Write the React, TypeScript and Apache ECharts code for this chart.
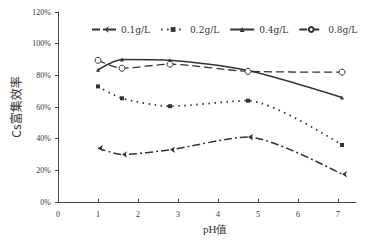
import React, { useEffect, useRef } from "react";
import * as echarts from "echarts";

const pH = [1, 1.6, 2.8, 4.75, 7.1];
const s01 = [34, 30, 33, 41, 17.5];
const s02 = [73, 65.5, 60.5, 64, 36];
const s04 = [83.5, 90, 89.5, 83, 66];
const s08 = [89.5, 84.5, 87, 82.5, 82];
const names = ["0.1g/L", "0.2g/L", "0.4g/L", "0.8g/L"];
const xTicks = [0, 1, 2, 3, 4, 5, 6, 7];

const toPts = (ys: number[]) => pH.map((x, i) => [x, ys[i]]);

export default function App() {
  const ref = useRef<HTMLDivElement>(null);
  useEffect(() => {
    const chart = echarts.init(ref.current!, null, { renderer: "svg" });
    const lc = "#333";
    const base = { type: "line", smooth: 0.25, color: lc };
    chart.setOption({
      animation: false,
      backgroundColor: "#fff",
      grid: { left: 58, right: 35, top: 12, bottom: 38 },
      legend: {
        top: 20,
        left: 86,
        itemWidth: 24,
        itemHeight: 6,
        itemGap: 10,
        textStyle: { fontFamily: "DejaVu Serif", fontSize: 9, color: "#333" },
        data: names,
      },
      xAxis: {
        type: "value",
        min: 0,
        max: 7.45,
        interval: 1,
        splitLine: { show: false },
        axisLine: { lineStyle: { color: "#444", width: 1 } },
        axisTick: { inside: true, length: 3, customValues: xTicks, lineStyle: { color: "#444" } },
        axisLabel: {
          customValues: xTicks,
          fontFamily: "Liberation Serif",
          fontSize: 8,
          color: "#333",
          margin: 8,
        },
      },
      yAxis: {
        type: "value",
        min: 0,
        max: 120,
        interval: 20,
        name: "Cs富集效率",
        nameLocation: "middle",
        nameRotate: 90,
        nameGap: 27,
        nameTextStyle: { fontFamily: "Noto Sans CJK SC", fontSize: 12, color: "#333" },
        splitLine: { show: false },
        axisLine: { show: true, lineStyle: { color: "#444", width: 1 } },
        axisTick: { show: true, length: 3, lineStyle: { color: "#444" } },
        axisLabel: {
          formatter: "{value}%",
          fontFamily: "Liberation Serif",
          fontSize: 8,
          color: "#333",
          margin: 7,
        },
      },
      graphic: [
        {
          type: "text",
          left: 203,
          top: 223,
          style: { text: "pH值", fontFamily: "Liberation Serif", fontSize: 11, fill: "#333" },
        },
      ],
      series: [
        {
          ...base,
          name: names[0],
          data: toPts(s01),
          symbol: "arrow",
          symbolRotate: 90,
          symbolSize: 5,
          lineStyle: { color: lc, width: 1.5, type: [8, 3, 2, 3] },
          itemStyle: { color: lc },
        },
        {
          ...base,
          name: names[1],
          data: toPts(s02),
          symbol: "rect",
          symbolSize: 4,
          lineStyle: { color: lc, width: 1.8, type: [1.5, 4.5] },
          itemStyle: { color: lc },
        },
        {
          ...base,
          name: names[2],
          data: toPts(s04),
          symbol: "triangle",
          symbolSize: 4,
          lineStyle: { color: lc, width: 1.5, type: "solid" },
          itemStyle: { color: lc },
        },
        {
          ...base,
          name: names[3],
          data: toPts(s08),
          symbol: "circle",
          symbolSize: 6,
          lineStyle: { color: lc, width: 1.3, type: [8, 4] },
          itemStyle: { color: "#fff", borderColor: lc, borderWidth: 1 },
        },
      ],
    });
    return () => chart.dispose();
  }, []);
  return (
    <div
      ref={ref}
      style={{ position: "fixed", left: 0, top: 0, width: 391, height: 240 }}
    />
  );
}
